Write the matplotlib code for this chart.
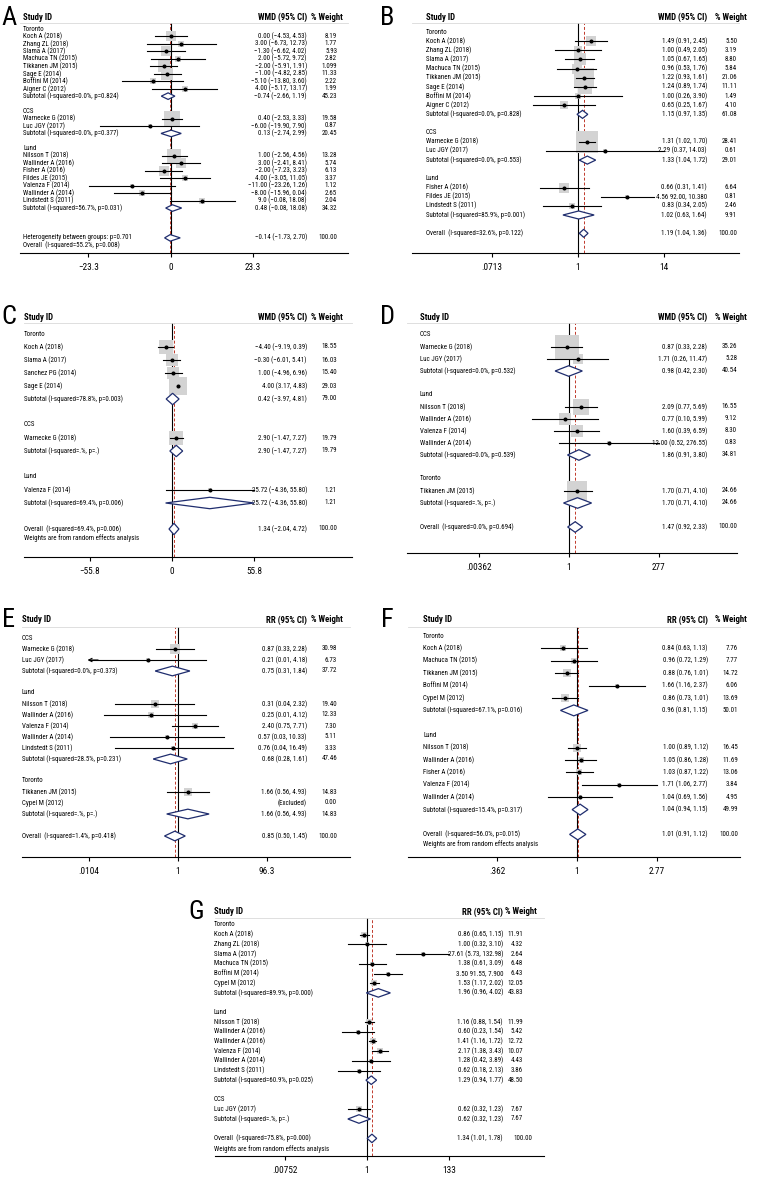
import numpy as np
import matplotlib
matplotlib.use("Agg")
import matplotlib.pyplot as plt
from matplotlib import font_manager
from matplotlib.font_manager import FontProperties
from matplotlib.patches import Polygon
from matplotlib.ticker import NullLocator
from matplotlib.transforms import blended_transform_factory

W, H = 768, 1188
GROUPS = {"Toronto", "OCS", "Lund"}
WEIGHTS_NOTE = "Weights are from random effects analysis"

# ---------------- panel A ----------------
A_rows = ["Toronto", "Koch A (2018)", "Zhang ZL (2018)", "Slama A (2017)", "Machuca TN (2015)",
          "Tikkanen JM (2015)", "Sage E (2014)", "Boffini M (2014)", "Aigner C (2012)",
          "Subtotal (I-squared=0.0%, p=0.824)", "",
          "OCS", "Warnecke G (2018)", "Luc JGY (2017)", "Subtotal (I-squared=0.0%, p=0.377)", "",
          "Lund", "Nilsson T (2018)", "Wallinder A (2016)", "Fisher A (2016)", "Fildes JE (2015)",
          "Valenza F (2014)", "Wallinder A (2014)", "Lindstedt S (2011)",
          "Subtotal (I-squared=56.7%, p=0.031)", "", "", "",
          "Heterogeneity between groups: p=0.701"]
A_est = [0.00, 3.00, -1.30, 2.00, -2.00, -1.00, -5.10, 4.00, -0.74,
         0.40, -6.00, 0.13,
         1.00, 3.00, -2.00, 4.00, -11.00, -8.00, 9.00, 0.48, -0.14]
A_lo = [-4.53, -6.73, -6.62, -5.72, -5.91, -4.82, -13.80, -5.17, -2.66,
        -2.53, -19.90, -2.74,
        -2.56, -2.41, -7.23, -3.05, -23.26, -15.96, -0.08, -1.42, -1.73]
A_hi = [4.53, 12.73, 4.02, 9.72, 1.91, 2.85, 3.60, 13.17, 1.19,
        3.33, 7.90, 2.99,
        4.56, 8.41, 3.23, 11.05, 1.26, 0.04, 18.08, 3.10, 2.70]
A_wt = [8.19, 1.77, 5.93, 2.82, 10.99, 11.33, 2.22, 1.99, 45.23,
        19.58, 0.87, 20.45,
        13.28, 5.74, 6.13, 3.37, 1.12, 2.65, 2.04, 34.32, 100.00]
A_ci_fix = {"Lindstedt S (2011)": "9.0 (\u22120.08, 18.08)",
            "Subtotal (I-squared=56.7%, p=0.031)": "0.48 (\u22120.08, 18.08)"}
A_wt_fix = {"Tikkanen JM (2015)": "1.099"}

# ---------------- panel B ----------------
B_rows = ["Toronto", "Koch A (2018)", "Zhang ZL (2018)", "Slama A (2017)", "Machuca TN (2015)",
          "Tikkanen JM (2015)", "Sage E (2014)", "Boffini M (2014)", "Aigner C (2012)",
          "Subtotal (I-squared=0.0%, p=0.828)", "",
          "OCS", "Warnecke G (2018)", "Luc JGY (2017)", "Subtotal (I-squared=0.0%, p=0.553)", "",
          "Lund", "Fisher A (2016)", "Fildes JE (2015)", "Lindstedt S (2011)",
          "Subtotal (I-squared=85.9%, p=0.001)", "",
          "Overall  (I-squared=32.6%, p=0.122)"]
B_est = [1.49, 1.00, 1.05, 0.96, 1.22, 1.24, 1.00, 0.65, 1.15, 1.31, 2.29, 1.33, 0.66, 4.56, 0.83, 1.02, 1.19]
B_lo = [0.91, 0.49, 0.67, 0.53, 0.93, 0.89, 0.26, 0.25, 0.97, 1.02, 0.37, 1.04, 0.31, 2.00, 0.34, 0.63, 1.04]
B_hi = [2.45, 2.05, 1.65, 1.76, 1.61, 1.74, 3.90, 1.67, 1.35, 1.70, 14.03, 1.72, 1.41, 10.38, 2.05, 1.64, 1.36]
B_wt = [5.50, 3.19, 8.80, 5.84, 21.06, 11.11, 1.49, 4.10, 61.08, 28.41, 0.61, 29.01, 6.64, 0.81, 2.46, 9.91, 100.00]
B_ci_fix = {"Fildes JE (2015)": "4.56 92.00, 10.380"}

# ---------------- panel C ----------------
C_rows = ["Toronto", "Koch A (2018)", "Slama A (2017)", "Sanchez PG (2014)", "Sage E (2014)",
          "Subtotal (I-squared=78.8%, p=0.003)", "",
          "OCS", "Warnecke G (2018)", "Subtotal (I-squared=.%, p=.)", "",
          "Lund", "Valenza F (2014)", "Subtotal (I-squared=69.4%, p=0.006)", "",
          "Overall  (I-squared=69.4%, p=0.006)"]
C_est = [-4.40, -0.30, 1.00, 4.00, 0.42, 2.90, 2.90, 25.72, 25.72, 1.34]
C_lo = [-9.19, -6.01, -4.96, 3.17, -3.97, -1.47, -1.47, -4.36, -4.36, -2.04]
C_hi = [0.39, 5.41, 6.96, 4.83, 4.81, 7.27, 7.27, 55.80, 55.80, 4.72]
C_wt = [18.55, 16.03, 15.40, 29.03, 79.00, 19.79, 19.79, 1.21, 1.21, 100.00]

# ---------------- panel D ----------------
D_rows = ["OCS", "Warnecke G (2018)", "Luc JGY (2017)", "Subtotal (I-squared=0.0%, p=0.532)", "",
          "Lund", "Nilsson T (2018)", "Wallinder A (2016)", "Valenza F (2014)", "Wallinder A (2014)",
          "Subtotal (I-squared=0.0%, p=0.539)", "",
          "Toronto", "Tikkanen JM (2015)", "Subtotal (I-squared=.%, p=.)", "",
          "Overall  (I-squared=0.0%, p=0.694)"]
D_est = [0.87, 1.71, 0.98, 2.09, 0.77, 1.60, 12.00, 1.86, 1.70, 1.70, 1.47]
D_lo = [0.33, 0.26, 0.42, 0.77, 0.10, 0.39, 0.52, 0.91, 0.71, 0.71, 0.92]
D_hi = [2.28, 11.47, 2.30, 5.69, 5.99, 6.59, 276.55, 3.80, 4.10, 4.10, 2.33]
D_wt = [35.26, 5.28, 40.54, 16.55, 9.12, 8.30, 0.83, 34.81, 24.66, 24.66, 100.00]

# ---------------- panel E ----------------
E_rows = ["OCS", "Warnecke G (2018)", "Luc JGY (2017)", "Subtotal (I-squared=0.0%, p=0.373)", "",
          "Lund", "Nilsson T (2018)", "Wallinder A (2016)", "Valenza F (2014)", "Wallinder A (2014)",
          "Lindstedt S (2011)", "Subtotal (I-squared=28.5%, p=0.231)", "",
          "Toronto", "Tikkanen JM (2015)", "Cypel M (2012)", "Subtotal (I-squared=.%, p=.)", "",
          "Overall  (I-squared=1.4%, p=0.418)"]
E_est = [0.87, 0.21, 0.75, 0.31, 0.25, 2.40, 0.57, 0.76, 0.68, 1.66, None, 1.66, 0.85]
E_lo = [0.33, 0.01, 0.31, 0.04, 0.022, 0.75, 0.03, 0.04, 0.28, 0.56, None, 0.56, 0.50]
E_hi = [2.28, 4.18, 1.84, 2.32, 4.12, 7.71, 10.33, 16.49, 1.61, 4.93, None, 4.93, 1.45]
E_wt = [30.98, 6.73, 37.72, 19.40, 12.33, 7.30, 5.11, 3.33, 47.46, 14.83, 0.00, 14.83, 100.00]
E_ci_fix = {"Wallinder A (2016)": "0.25 (0.01, 4.12)", "Cypel M (2012)": "(Excluded)"}

# ---------------- panel F ----------------
F_rows = ["Toronto", "Koch A (2018)", "Machuca TN (2015)", "Tikkanen JM (2015)", "Boffini M (2014)",
          "Cypel M (2012)", "Subtotal (I-squared=67.1%, p=0.016)", "",
          "Lund", "Nilsson T (2018)", "Wallinder A (2016)", "Fisher A (2016)", "Valenza F (2014)",
          "Wallinder A (2014)", "Subtotal (I-squared=15.4%, p=0.317)", "",
          "Overall  (I-squared=56.0%, p=0.015)"]
F_est = [0.84, 0.96, 0.88, 1.66, 0.86, 0.96, 1.00, 1.05, 1.03, 1.71, 1.04, 1.04, 1.01]
F_lo = [0.63, 0.72, 0.76, 1.16, 0.73, 0.81, 0.89, 0.86, 0.87, 1.06, 0.69, 0.94, 0.91]
F_hi = [1.13, 1.29, 1.01, 2.37, 1.01, 1.15, 1.12, 1.28, 1.22, 2.77, 1.56, 1.15, 1.12]
F_wt = [7.76, 7.77, 14.72, 6.06, 13.69, 50.01, 16.45, 11.69, 13.06, 3.84, 4.95, 49.99, 100.00]

# ---------------- panel G ----------------
G_rows = ["Toronto", "Koch A (2018)", "Zhang ZL (2018)", "Slama A (2017)", "Machuca TN (2015)",
          "Boffini M (2014)", "Cypel M (2012)", "Subtotal (I-squared=89.9%, p=0.000)", "",
          "Lund", "Nilsson T (2018)", "Wallinder A (2016)", "Wallinder A (2016)", "Valenza F (2014)",
          "Wallinder A (2014)", "Lindstedt S (2011)", "Subtotal (I-squared=60.9%, p=0.025)", "",
          "OCS", "Luc JGY (2017)", "Subtotal (I-squared=.%, p=.)", "",
          "Overall  (I-squared=75.8%, p=0.000)"]
G_est = [0.86, 1.00, 27.61, 1.38, 3.50, 1.53, 1.96, 1.16, 0.60, 1.41, 2.17, 1.28, 0.62, 1.29, 0.62, 0.62, 1.34]
G_lo = [0.65, 0.32, 5.73, 0.61, 1.55, 1.17, 0.96, 0.88, 0.23, 1.16, 1.38, 0.42, 0.18, 0.94, 0.32, 0.32, 1.01]
G_hi = [1.15, 3.10, 132.98, 3.09, 7.90, 2.02, 4.02, 1.54, 1.54, 1.72, 3.43, 3.89, 2.13, 1.77, 1.23, 1.23, 1.78]
G_wt = [11.91, 4.32, 2.64, 6.48, 6.43, 12.05, 43.83, 11.99, 5.42, 12.72, 10.07, 4.43, 3.86, 48.50, 7.67, 7.67, 100.00]
G_ci_fix = {"Boffini M (2014)": "3.50 91.55, 7.900"}


# ---- fonts: the original is set in a condensed face, look for one ----
PREF = ["liberation sans narrow", "roboto condensed", "dejavu sans", "noto sans", "open sans",
        "liberation sans", "roboto", "lato", "inter"]


def weight_num(wt):
    if isinstance(wt, (int, float)):
        return int(wt)
    return {"normal": 400, "regular": 400, "book": 400, "medium": 500, "bold": 700}.get(str(wt).lower(), 0)


def find_face(bold):
    best, best_rank = None, None
    for f in font_manager.fontManager.ttflist:
        name = f.name.lower()
        stretch = str(f.stretch).lower()
        if "mono" in name or f.style != "normal":
            continue
        narrow = ("narrow" in name or "condensed" in name or stretch in ("condensed", "semi-condensed"))
        if not narrow or "extra" in name or "ultra" in name:
            continue
        if weight_num(f.weight) != (700 if bold else 400):
            continue
        base = name.replace(" condensed", "").replace(" narrow", "")
        rank = next((i for i, p in enumerate(PREF) if name.startswith(p) or base == p), len(PREF))
        if best is None or rank < best_rank:
            best, best_rank = f.fname, rank
    return best


reg_file, bold_file = find_face(False), find_face(True)
plt.rcParams["font.family"] = ["Liberation Sans", "DejaVu Sans"]


def make_fp(fname, bold=False):
    if fname:
        return FontProperties(fname=fname)
    return FontProperties(family=["Liberation Sans", "DejaVu Sans"], weight="bold" if bold else "normal")


FP_REG = make_fp(reg_file)
FP_BOLD = make_fp(bold_file or reg_file, bold=bold_file is None)


def fit_size(fp, sample, target_px):
    # font size that gives the sample text the width seen in the picture
    f = plt.figure(figsize=(4, 1), dpi=100)
    t = f.text(0, 0.5, sample, fontproperties=fp, fontsize=10)
    f.canvas.draw()
    w = t.get_window_extent().width
    plt.close(f)
    return 10 * target_px / w


FS = fit_size(FP_REG, "Subtotal (I-squared=0.0%, p=0.824)", 95)
FS_HEAD = fit_size(FP_BOLD, "WMD (95% CI)", 50)
FS_TICK = fit_size(FP_REG, "23.3", 16)
FS_LETTER = 19

NAVY = "#1f2d6e"
RED = "#c0392b"
BOX = "#d3d3d3"


def fmt(v):
    return f"{v:.2f}".replace("-", "\u2212")


# layout of each panel, in pixels of the 768x1188 picture
panels = [
    dict(letter="A", rows=A_rows, est=A_est, lo=A_lo, hi=A_hi, wt=A_wt, ci_fix=A_ci_fix, wt_fix=A_wt_fix,
         letter_xy=(9, 18), head_y=17, top=23, axis_y=253, first_y=29, step=7.46,
         xl=20, xr=348, name_x=23, ci_x=307, wt_x=337, wth_x=343,
         null_px=170.7, ppu=3.53, log=False, tick=23.3, ticklabels=["\u221223.3", "0", "23.3"],
         box_k=3.8, measure="WMD", note="Overall  (I-squared=55.2%, p=0.008)", note_px=7),
    dict(letter="B", rows=B_rows, est=B_est, lo=B_lo, hi=B_hi, wt=B_wt, ci_fix=B_ci_fix,
         letter_xy=(387, 18), head_y=17, top=23, axis_y=253, first_y=32, step=9.15,
         xl=412, xr=739, name_x=426, ci_x=707, wt_x=737, wth_x=747,
         null_px=578, ppu=32.6, log=True, tick=14.03, ticklabels=[".0713", "1", "14"],
         box_k=4.2, measure="WMD"),
    dict(letter="C", rows=C_rows, est=C_est, lo=C_lo, hi=C_hi, wt=C_wt,
         letter_xy=(9, 317), head_y=317, top=323, axis_y=557, first_y=334, step=13.0,
         xl=24, xr=352, name_x=24, ci_x=307, wt_x=337, wth_x=343,
         null_px=172, ppu=1.47, log=False, tick=55.8, ticklabels=["\u221255.8", "0", "55.8"],
         box_k=3.2, measure="WMD", note=WEIGHTS_NOTE, note_px=9),
    dict(letter="D", rows=D_rows, est=D_est, lo=D_lo, hi=D_hi, wt=D_wt,
         letter_xy=(387, 317), head_y=317, top=323, axis_y=553, first_y=335, step=12.0,
         xl=407, xr=737, name_x=420, ci_x=707, wt_x=737, wth_x=747,
         null_px=569, ppu=16.0, log=True, tick=277, ticklabels=[".00362", "1", "277"],
         box_k=4.1, measure="WMD"),
    dict(letter="E", rows=E_rows, est=E_est, lo=E_lo, hi=E_hi, wt=E_wt, ci_fix=E_ci_fix,
         letter_xy=(9, 620), head_y=620, top=627, axis_y=857, first_y=638, step=11.0,
         xl=22, xr=350, name_x=22, ci_x=307, wt_x=337, wth_x=343,
         null_px=178, ppu=19.5, log=True, tick=96.3, ticklabels=[".0104", "1", "96.3"],
         box_k=1.9, measure="RR"),
    dict(letter="F", rows=F_rows, est=F_est, lo=F_lo, hi=F_hi, wt=F_wt,
         letter_xy=(387, 620), head_y=620, top=627, axis_y=857, first_y=636, step=12.4,
         xl=408, xr=740, name_x=423, ci_x=708, wt_x=738, wth_x=747,
         null_px=577, ppu=78.5, log=True, tick=2.77, ticklabels=[".362", "1", "2.77"],
         box_k=1.9, measure="RR", note=WEIGHTS_NOTE, note_px=10),
    dict(letter="G", rows=G_rows, est=G_est, lo=G_lo, hi=G_hi, wt=G_wt, ci_fix=G_ci_fix,
         letter_xy=(196, 912), head_y=912, top=918, axis_y=1156, first_y=925, step=9.7,
         xl=215, xr=544, name_x=214, ci_x=503, wt_x=523, wth_x=537,
         null_px=367, ppu=16.8, log=True, tick=133, ticklabels=[".00752", "1", "133"],
         box_k=1.85, measure="RR", note=WEIGHTS_NOTE, note_px=11,
         wt_shift={"Overall  (I-squared=75.8%, p=0.000)": 9}),
]


def is_pooled(label):
    return label.startswith(("Subtotal", "Overall", "Heterogeneity"))


def draw_panel(fig, p):
    xl, xr = p["xl"], p["xr"]
    ax = fig.add_axes([xl / W, 1 - p["axis_y"] / H, (xr - xl) / W, (p["axis_y"] - p["top"]) / H])
    y0, step = p["first_y"], p["step"]

    def to_row(py):
        return (py - y0) / step

    ax.set_ylim(to_row(p["axis_y"]), to_row(p["top"]))
    if p["log"]:
        ax.set_xscale("log")
        ax.set_xlim(np.exp((xl - p["null_px"]) / p["ppu"]), np.exp((xr - p["null_px"]) / p["ppu"]))
        null = 1.0
        ticks = [1 / p["tick"], 1, p["tick"]]
    else:
        ax.set_xlim((xl - p["null_px"]) / p["ppu"], (xr - p["null_px"]) / p["ppu"])
        null = 0.0
        ticks = [-p["tick"], 0, p["tick"]]
    lim_lo, lim_hi = ticks[0], ticks[2]
    ax.set_xticks(ticks)
    ax.set_xticklabels(p["ticklabels"], fontproperties=FP_REG, fontsize=FS_TICK)
    ax.xaxis.set_minor_locator(NullLocator())
    ax.tick_params(axis="x", direction="out", length=3, width=0.8, pad=4)
    ax.tick_params(axis="y", left=False, labelleft=False)
    for s in ["left", "right", "top"]:
        ax.spines[s].set_visible(False)
    ax.spines["bottom"].set_linewidth(0.8)
    ax.patch.set_alpha(0)

    tr = blended_transform_factory(fig.transFigure, ax.transData)
    ci_fix = p.get("ci_fix", {})
    wt_fix = p.get("wt_fix", {})
    wt_shift = p.get("wt_shift", {})
    row_kw = dict(transform=tr, fontproperties=FP_REG, fontsize=FS, va="center")
    head_kw = dict(transform=tr, fontproperties=FP_BOLD, fontsize=FS_HEAD, va="center", clip_on=False)

    # header
    hr = to_row(p["head_y"])
    ax.text(p["name_x"] / W, hr, "Study ID", ha="left", **head_kw)
    ax.text(p["ci_x"] / W, hr, p["measure"] + " (95% CI)", ha="right", **head_kw)
    ax.text(p["wth_x"] / W, hr, "% Weight", ha="right", **head_kw)
    ax.axhline(to_row(p["top"]), color="#d9d9d9", lw=0.6, clip_on=False)
    lx, ly = p["letter_xy"]
    fig.text(lx / W, 1 - ly / H, p["letter"], fontproperties=FP_REG, fontsize=FS_LETTER,
             ha="center", va="center")

    ax.axvline(null, color="black", lw=0.8, zorder=1)

    k = 0
    pooled_est = null
    for r, lab in enumerate(p["rows"]):
        if lab == "":
            continue
        ax.text(p["name_x"] / W, r, lab, ha="left", **row_kw)
        if lab in GROUPS:
            continue
        e, lo, hi, w = p["est"][k], p["lo"][k], p["hi"][k], p["wt"][k]
        k += 1
        ci_txt = ci_fix.get(lab, f"{fmt(e)} ({fmt(lo)}, {fmt(hi)})" if e is not None else "")
        ax.text(p["ci_x"] / W, r, ci_txt, ha="right", **row_kw)
        ax.text((p["wt_x"] + wt_shift.get(lab, 0)) / W, r, wt_fix.get(lab, f"{w:.2f}"),
                ha="right", **row_kw)
        if e is None:
            continue
        if is_pooled(lab):
            hh = 0.44
            ax.add_patch(Polygon([(lo, r), (e, r - hh), (hi, r), (e, r + hh)], closed=True,
                                 facecolor="white", edgecolor=NAVY, lw=0.9, zorder=3))
            pooled_est = e
            continue
        side = p["box_k"] * np.sqrt(w) * 0.72
        ax.scatter([e], [r], marker="s", s=side ** 2, color=BOX, linewidths=0, zorder=2)
        if lo < lim_lo:
            ax.plot([lim_lo, hi], [r, r], color="black", lw=0.8, zorder=4)
            ax.annotate("", xy=(lim_lo * (0.93 if p["log"] else 1), r), xytext=(lim_lo * 1.6, r),
                        arrowprops=dict(arrowstyle="->", lw=0.8, color="black",
                                        mutation_scale=6, shrinkA=0, shrinkB=0), zorder=4)
        else:
            ax.plot([lo, min(hi, lim_hi * 1.02)], [r, r], color="black", lw=0.8, zorder=4)
        ax.plot([e], [r], "o", ms=1.9, color="black", zorder=5)

    ax.axvline(pooled_est, color=RED, lw=0.7, ls=(0, (3, 2)), zorder=1.5)

    if p.get("note"):
        last = len(p["rows"]) - 1
        ax.text(p["name_x"] / W, last + p["note_px"] / step, p["note"], ha="left", **row_kw)
    return ax


fig = plt.figure(figsize=(W / 100, H / 100), dpi=100)
for p in panels:
    draw_panel(fig, p)

fig.savefig("out.png", dpi=100)
